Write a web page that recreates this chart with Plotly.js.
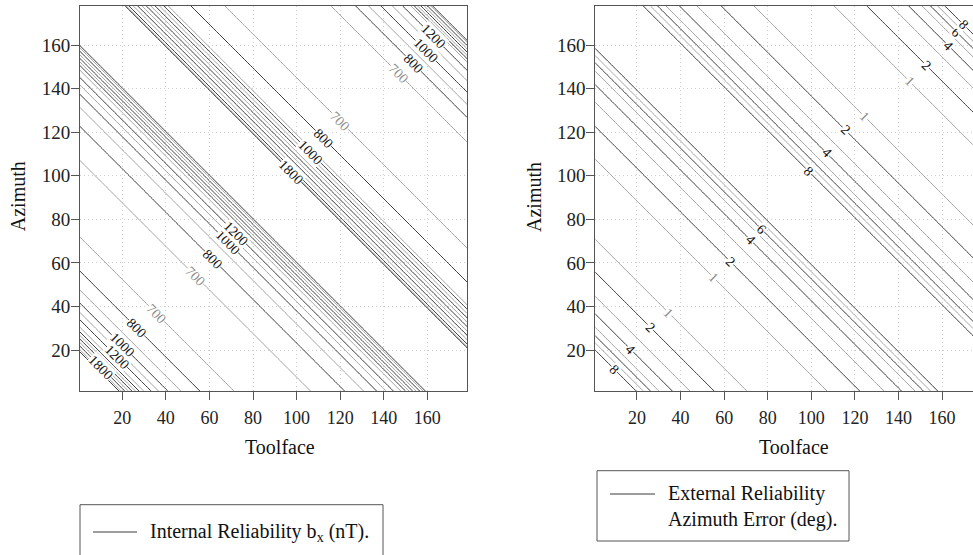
<!DOCTYPE html>
<html><head><meta charset="utf-8">
<script src="https://cdn.plot.ly/plotly-3.0.1.min.js"></script>
<style>html,body{margin:0;padding:0;background:#fff;overflow:hidden}#chart{width:973px;height:555px}</style>
</head><body><div id="chart"></div>
<script>
// grid (degrees)
const toolface = [0,10,20,30,40,50,60,70,80,90,100,110,120,130,140,150,160,170,180];
const azimuth  = [0,10,20,30,40,50,60,70,80,90,100,110,120,130,140,150,160,170,180];

// Internal reliability b_x (nT), rows = azimuth, cols = toolface (estimated from the contours)
const zInternal = [
[9999,3830,1944,1330,1035,868,768,708,675,665,675,708,768,868,1035,1330,1944,3830,9999],
[3830,1944,1330,1035,868,768,708,675,665,675,708,768,868,1035,1330,1944,3830,9999,3830],
[1944,1330,1035,868,768,708,675,665,675,708,768,868,1035,1330,1944,3830,9999,3830,1850],
[1330,1035,868,768,708,675,665,675,708,768,868,1035,1330,1944,3830,9999,3830,1850,1350],
[1035,868,768,708,675,665,675,708,768,868,1035,1330,1944,3830,9999,3830,1850,1350,850],
[868,768,708,675,665,675,708,768,868,1035,1330,1944,3830,9999,3830,1850,1350,850,797],
[768,708,675,665,675,708,768,868,1035,1330,1944,3830,9999,3830,1850,1350,850,797,710],
[708,675,665,675,708,768,868,1035,1330,1944,3830,9999,3830,1850,1350,850,797,710,690],
[675,665,675,708,768,868,1035,1330,1944,3830,9999,3830,1850,1350,850,797,710,690,660],
[665,675,708,768,868,1035,1330,1944,3830,9999,3830,1850,1350,850,797,710,690,660,650],
[675,708,768,868,1035,1330,1944,3830,9999,3830,1850,1350,850,797,710,690,660,650,660],
[708,768,868,1035,1330,1944,3830,9999,3830,1850,1350,850,797,710,690,660,650,660,690],
[768,868,1035,1330,1944,3830,9999,3830,1850,1350,850,797,710,690,660,650,660,690,717],
[868,1035,1330,1944,3830,9999,3830,1850,1350,850,797,710,690,660,650,660,690,717,883],
[1035,1330,1944,3830,9999,3830,1850,1350,850,797,710,690,660,650,660,690,717,883,1060],
[1330,1944,3830,9999,3830,1850,1350,850,797,710,690,660,650,660,690,717,883,1060,1272],
[1944,3830,9999,3830,1850,1350,850,797,710,690,660,650,660,690,717,883,1060,1272,1932],
[3830,9999,3830,1850,1350,850,797,710,690,660,650,660,690,717,883,1060,1272,1932,3830],
[9999,3830,1850,1350,850,797,710,690,660,650,660,690,717,883,1060,1272,1932,3830,9999]
];

// External reliability azimuth error (deg)
const zExternal = [
[99,17,8.24,5.2,3.58,2.52,1.73,1.09,0.53,0,0.53,1.09,1.73,2.52,3.58,5.2,8.24,17,99],
[17,8.24,5.2,3.58,2.52,1.73,1.09,0.53,0,0.53,1.09,1.73,2.52,3.58,5.2,8.24,17,99,17],
[8.24,5.2,3.58,2.52,1.73,1.09,0.53,0,0.53,1.09,1.73,2.52,3.58,5.2,8.24,17,99,17,8.24],
[5.2,3.58,2.52,1.73,1.09,0.53,0,0.53,1.09,1.73,2.52,3.58,5.2,8.24,17,99,17,8.24,5.2],
[3.58,2.52,1.73,1.09,0.53,0,0.53,1.09,1.73,2.52,3.58,5.2,8.24,17,99,17,8.24,5.2,3.58],
[2.52,1.73,1.09,0.53,0,0.53,1.09,1.73,2.52,3.58,5.2,8.24,17,99,17,8.24,5.2,3.58,2.52],
[1.73,1.09,0.53,0,0.53,1.09,1.73,2.52,3.58,5.2,8.24,17,99,17,8.24,5.2,3.58,2.52,1.73],
[1.09,0.53,0,0.53,1.09,1.73,2.52,3.58,5.2,8.24,17,99,17,8.24,5.2,3.58,2.52,1.73,1.09],
[0.53,0,0.53,1.09,1.73,2.52,3.58,5.2,8.24,17,99,17,8.24,5.2,3.58,2.52,1.73,1.09,0.53],
[0,0.53,1.09,1.73,2.52,3.58,5.2,8.24,17,99,17,8.24,5.2,3.58,2.52,1.73,1.09,0.53,0],
[0.53,1.09,1.73,2.52,3.58,5.2,8.24,17,99,17,8.24,5.2,3.58,2.52,1.73,1.09,0.53,0,0.53],
[1.09,1.73,2.52,3.58,5.2,8.24,17,99,17,8.24,5.2,3.58,2.52,1.73,1.09,0.53,0,0.53,1.09],
[1.73,2.52,3.58,5.2,8.24,17,99,17,8.24,5.2,3.58,2.52,1.73,1.09,0.53,0,0.53,1.09,1.73],
[2.52,3.58,5.2,8.24,17,99,17,8.24,5.2,3.58,2.52,1.73,1.09,0.53,0,0.53,1.09,1.73,2.52],
[3.58,5.2,8.24,17,99,17,8.24,5.2,3.58,2.52,1.73,1.09,0.53,0,0.53,1.09,1.73,2.52,3.58],
[5.2,8.24,17,99,17,8.24,5.2,3.58,2.52,1.73,1.09,0.53,0,0.53,1.09,1.73,2.52,3.58,5.2],
[8.24,17,99,17,8.24,5.2,3.58,2.52,1.73,1.09,0.53,0,0.53,1.09,1.73,2.52,3.58,5.2,8.24],
[17,99,17,8.24,5.2,3.58,2.52,1.73,1.09,0.53,0,0.53,1.09,1.73,2.52,3.58,5.2,8.24,17],
[99,17,8.24,5.2,3.58,2.52,1.73,1.09,0.53,0,0.53,1.09,1.73,2.52,3.58,5.2,8.24,17,99]
];

// contour levels
const internalGrayLevels  = {start: 700, end: 1900, size: 200};
const internalBlackLevels = {start: 800, end: 2000, size: 200};
const externalGrayLevels  = {start: 1, end: 7, size: 2};
const externalBlackLevels = {start: 2, end: 8, size: 2};

// contour labels (value, toolface, azimuth)
const internalLabelText = ["700","800","1000","1200","1800","700","800","1000","1200","1800","1000","800","700","700","800","1000","1200"];
const internalLabelX    = [35.5,26.75,19.7,17.75,10.15,53.65,61.5,68.45,72.05,97.5,106.2,112.3,119.9,146.7,153.6,159.3,162.8];
const internalLabelY    = [36.9,30.05,22.4,16.65,12.15,53.95,61.7,69.45,73.55,101.6,110.5,117.2,124.8,147,151.6,157.6,163.8];
const externalLabelText = ["1","1","1","1","2","2","2","2","4","4","4","4","6","6","8","8","8"];
const externalLabelX    = [34.6,55.05,124.4,145.2,26.15,62.8,115.55,152.75,16.95,72,106.95,162.75,77.15,166.65,9.6,98.8,169.9];
const externalLabelY    = [37.0,53.35,127.2,143.2,30.45,60.6,121.05,150.65,20.45,70.6,110.45,159.85,75.45,165.95,11.2,102,169.3];

const tickVals = [20,40,60,80,100,120,140,160];
const SERIF = '"Liberation Serif","DejaVu Serif",serif';
const GRAY = '#a3a3a3', BLACK = '#3a3a3a', FRAME = '#555';

function cTrace(z, lv, color, xa, ya) {
  return {type:'contour', x: toolface, y: azimuth, z: z, xaxis: xa, yaxis: ya,
    autocontour:false, contours: Object.assign({coloring:'none', showlabels:false}, lv),
    line:{color: color, width: 1, smoothing: 0.6}, showscale:false, hoverinfo:'skip'};
}
const data = [
  cTrace(zInternal, internalGrayLevels, GRAY, 'x', 'y'),
  cTrace(zInternal, internalBlackLevels, BLACK, 'x', 'y'),
  cTrace(zExternal, externalGrayLevels, GRAY, 'x2', 'y2'),
  cTrace(zExternal, externalBlackLevels, BLACK, 'x2', 'y2')
];

function axis(domain, range, isY, mirror) {
  return {domain: domain, range: range, showline:true, linecolor: FRAME, linewidth:1, mirror: mirror,
    ticks:'outside', ticklen: 8, tickcolor: FRAME, tickvals: tickVals, showgrid:true,
    gridcolor:'#cfcfcf', griddash:'1px,3px', gridwidth:1, zeroline:false,
    tickfont:{family: SERIF, size: isY ? 19 : 18, color:'#222'}, ticklabelstandoff: isY ? -3 : 2, fixedrange:true};
}

const ann = [];
function addLabels(texts, xs, ys, xa, ya) {
  texts.forEach((t, i) => {
    const gray = (xa === 'x' && t === '700') || (xa === 'x2' && t === '1');
    ann.push({x: xs[i], y: ys[i], xref: xa, yref: ya, xanchor:'center', yanchor:'middle', text: t, showarrow:false, textangle: 45,
      font:{family: SERIF, size: 14, color: gray ? '#8a8a8a' : '#111'}, bgcolor:'#fff', borderpad:0});
  });
}
addLabels(internalLabelText, internalLabelX, internalLabelY, 'x', 'y');
addLabels(externalLabelText, externalLabelX, externalLabelY, 'x2', 'y2');

const W = 973, H = 555;
const px = v => v / W, py = v => (H - v) / H;
const titleFont = {family: SERIF, size: 20, color:'#111'};
function pAnn(x, y, text, extra) {
  ann.push(Object.assign({x: px(x), y: py(y), xref:'paper', yref:'paper', xanchor:'center', yanchor:'middle',
    text: text, showarrow:false, font: titleFont}, extra || {}));
}
pAnn(280, 446.7, 'Toolface');
pAnn(794, 446.7, 'Toolface');
pAnn(17.5, 196.7, 'Azimuth', {textangle:-90});
pAnn(533.3, 196.7, 'Azimuth', {textangle:-90});
pAnn(148, 532, 'Internal Reliability b<sub>x</sub> (nT).', {xanchor:'left'});
pAnn(666, 506, 'External Reliability<br>Azimuth Error (deg).', {xanchor:'left', align:'left'});

const shapes = [
  {type:'rect', xref:'paper', yref:'paper', x0: px(80), x1: px(383), y0: py(565), y1: py(504.7), line:{color:FRAME, width:1}},
  {type:'line', xref:'paper', yref:'paper', x0: px(93), x1: px(137), y0: py(532), y1: py(532), line:{color:BLACK, width:1}},
  {type:'rect', xref:'paper', yref:'paper', x0: px(597), x1: px(849), y0: py(541), y1: py(470.7), line:{color:FRAME, width:1}},
  {type:'line', xref:'paper', yref:'paper', x0: px(610), x1: px(655), y0: py(494), y1: py(494), line:{color:BLACK, width:1}}
];

const layout = {
  width: W, height: H, margin:{l:0,r:0,t:0,b:0}, paper_bgcolor:'#fff', plot_bgcolor:'#fff',
  showlegend:false,
  xaxis: axis([px(80), px(467)], [0.6, 178.2], false, true),
  yaxis: axis([py(391), py(6)], [1.2, 177.9], true, true),
  xaxis2: Object.assign(axis([px(595.3), 1], [0.87, 174.2], false, true), {anchor:'y2'}),
  yaxis2: Object.assign(axis([py(391), py(6)], [1.2, 177.9], true, false), {anchor:'x2'}),
  annotations: ann, shapes: shapes
};
layout.xaxis.anchor = 'y';
layout.yaxis.anchor = 'x';

Plotly.newPlot('chart', data, layout, {staticPlot:true, displayModeBar:false});
</script>
</body></html>
